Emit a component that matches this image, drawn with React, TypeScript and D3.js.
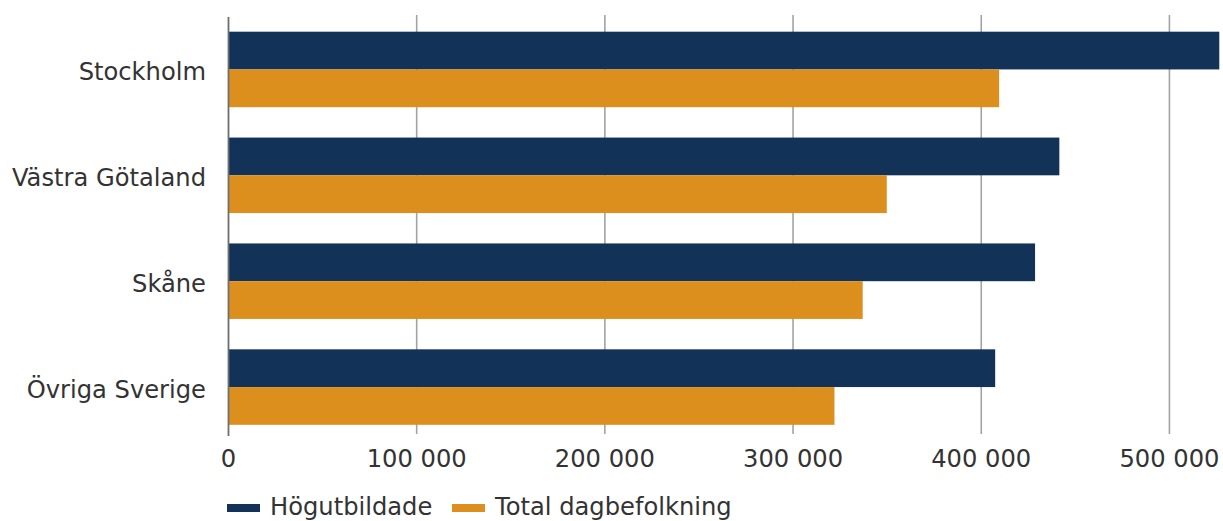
import React from "react";
import * as d3 from "d3";

const categories = ["Stockholm", "Västra Götaland", "Skåne", "Övriga Sverige"];
const seriesNames = ["Högutbildade", "Total dagbefolkning"];
const hogutbildade = [526500, 441500, 428600, 407400];
const totalDagbefolkning = [409500, 349800, 337000, 322000];
const xTicks = [0, 100000, 200000, 300000, 400000, 500000];
const colors = ["#133257", "#DC8F1D"];

const W = 1223;
const H = 521;
const FONT = "'DejaVu Sans', Verdana, sans-serif";
const FS = 24.2;

export default function App() {
  const x = d3.scaleLinear().domain([0, 526500]).range([228.5, 1219.3]);
  const y = d3
    .scaleBand<string>()
    .domain(categories)
    .range([16.5, 440])
    .paddingInner(0.287)
    .paddingOuter(0.1435);
  const sub = d3.scaleBand<number>().domain([0, 1]).range([0, y.bandwidth()]);
  const locale = d3.formatLocale({ decimal: ",", thousands: " ", grouping: [3], currency: ["", " kr"] });
  const fmt = locale.format(",d");
  const series = [hogutbildade, totalDagbefolkning];

  return (
    <svg
      width={W}
      height={H}
      style={{ position: "absolute", left: 0, top: 0, background: "#fff" }}
      fontFamily={FONT}
    >
      {xTicks.slice(1).map((t) => (
        <line key={"g" + t} x1={x(t)} x2={x(t)} y1={15} y2={434} stroke="#a3a3a3" strokeWidth={1.6} />
      ))}
      {categories.map((c, i) =>
        series.map((s, j) => (
          <rect
            key={c + j}
            x={x(0)}
            y={(y(c) as number) + (sub(j) as number)}
            width={x(s[i]) - x(0)}
            height={sub.bandwidth()}
            fill={colors[j]}
          />
        ))
      )}
      <line x1={x(0)} x2={x(0)} y1={17} y2={436} stroke="#6e6e6e" strokeWidth={1.8} />
      {xTicks.map((t) => (
        <text key={"t" + t} x={x(t)} y={466.5} textAnchor="middle" fontSize={FS} fill="#333">
          {fmt(t)}
        </text>
      ))}
      {categories.map((c) => (
        <text
          key={"l" + c}
          x={206}
          y={(y(c) as number) + y.bandwidth() / 2 + 10.5}
          textAnchor="end"
          fontSize={FS}
          fill="#333"
        >
          {c}
        </text>
      ))}
      {seriesNames.map((n, j) => {
        const lx = j === 0 ? 227 : 452;
        return (
          <g key={"lg" + n}>
            <rect x={lx} y={504} width={33} height={8} fill={colors[j]} />
            <text x={lx + 43} y={515} fontSize={FS} fill="#333">
              {n}
            </text>
          </g>
        );
      })}
    </svg>
  );
}
